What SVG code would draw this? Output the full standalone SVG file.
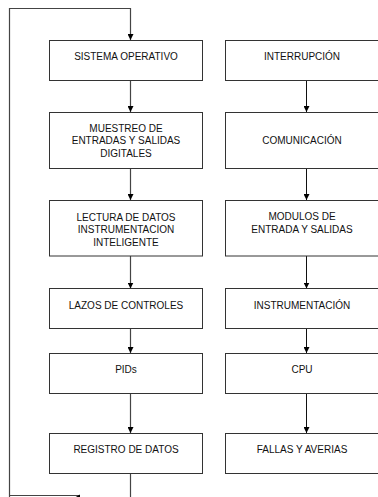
<svg xmlns="http://www.w3.org/2000/svg" width="378" height="497" viewBox="0 0 378 497">
<style>
.box{fill:#fff;stroke:#333;stroke-width:1}
.t{font-family:"Liberation Sans",Arial,sans-serif;font-size:10px;fill:#111;text-anchor:middle}
.c{fill:none;stroke:#444;stroke-width:1.2}
.cr{fill:none;stroke:#111;stroke-width:1}
</style>
<defs>
<marker id="ah" viewBox="0 0 10 10" refX="10" refY="5" markerWidth="6" markerHeight="6" markerUnits="userSpaceOnUse" orient="auto">
<path d="M0,0 L10,5 L0,10 z" fill="#000"/>
</marker>
</defs>
<rect width="378" height="497" fill="#fff"/>
<g id="connectors">
<polyline class="c" points="9.5,497 9.5,8.5 130.5,8.5 130.5,40" marker-end="url(#ah)"/>
<line class="c" x1="130.5" y1="80" x2="130.5" y2="112" marker-end="url(#ah)"/>
<line class="c" x1="130.5" y1="168" x2="130.5" y2="200" marker-end="url(#ah)"/>
<line class="c" x1="130.5" y1="256" x2="130.5" y2="288.5" marker-end="url(#ah)"/>
<line class="c" x1="130.5" y1="328" x2="130.5" y2="353" marker-end="url(#ah)"/>
<line class="c" x1="130.5" y1="393" x2="130.5" y2="433" marker-end="url(#ah)"/>
<line class="c" x1="130.5" y1="473" x2="130.5" y2="497"/>
<line class="c" x1="9.5" y1="495.5" x2="80" y2="495.5"/>
<path d="M74,498 L80,494.5 L80,501 z" fill="#000"/>
<line class="cr" x1="306.5" y1="80" x2="306.5" y2="112" marker-end="url(#ah)"/>
<line class="cr" x1="306.5" y1="168" x2="306.5" y2="200" marker-end="url(#ah)"/>
<line class="cr" x1="306.5" y1="256" x2="306.5" y2="288.5" marker-end="url(#ah)"/>
<line class="cr" x1="306.5" y1="328" x2="306.5" y2="353" marker-end="url(#ah)"/>
<line class="cr" x1="306.5" y1="393" x2="306.5" y2="433" marker-end="url(#ah)"/>
</g>
<g id="sistema-operativo"><rect class="box" x="49.5" y="40.5" width="153" height="40"/><text class="t" x="126" y="60">SISTEMA OPERATIVO</text></g>
<g id="muestreo"><rect class="box" x="49.5" y="112.5" width="153" height="56"/><text class="t" x="126" y="131.7">MUESTREO DE</text><text class="t" x="126" y="144.2">ENTRADAS Y SALIDAS</text><text class="t" x="126" y="156.7">DIGITALES</text></g>
<g id="lectura"><rect class="box" x="49.5" y="200.5" width="153" height="55.5"/><text class="t" x="126" y="220.7">LECTURA DE DATOS</text><text class="t" x="126" y="233.2">INSTRUMENTACION</text><text class="t" x="126" y="245.5">INTELIGENTE</text></g>
<g id="lazos"><rect class="box" x="49.5" y="288.5" width="153" height="40"/><text class="t" x="126" y="309">LAZOS DE CONTROLES</text></g>
<g id="pids"><rect class="box" x="49.5" y="353.5" width="153" height="40"/><text class="t" x="126" y="372.7">PIDs</text></g>
<g id="registro"><rect class="box" x="49.5" y="433.5" width="153" height="40"/><text class="t" x="126" y="452.7">REGISTRO DE DATOS</text></g>
<g id="interrupcion"><rect class="box" x="225.5" y="40.5" width="154" height="40"/><text class="t" x="302" y="60">INTERRUPCIÓN</text></g>
<g id="comunicacion"><rect class="box" x="225.5" y="112.5" width="154" height="56"/><text class="t" x="302" y="144">COMUNICACIÓN</text></g>
<g id="modulos"><rect class="box" x="225.5" y="200.5" width="154" height="55.5"/><text class="t" x="302" y="220">MODULOS DE</text><text class="t" x="302" y="233.3">ENTRADA Y SALIDAS</text></g>
<g id="instrumentacion"><rect class="box" x="225.5" y="288.5" width="154" height="40"/><text class="t" x="302" y="309">INSTRUMENTACIÓN</text></g>
<g id="cpu"><rect class="box" x="225.5" y="353.5" width="154" height="40"/><text class="t" x="302" y="372.7">CPU</text></g>
<g id="fallas"><rect class="box" x="225.5" y="433.5" width="154" height="40"/><text class="t" x="302" y="452.7">FALLAS Y AVERIAS</text></g>
</svg>
